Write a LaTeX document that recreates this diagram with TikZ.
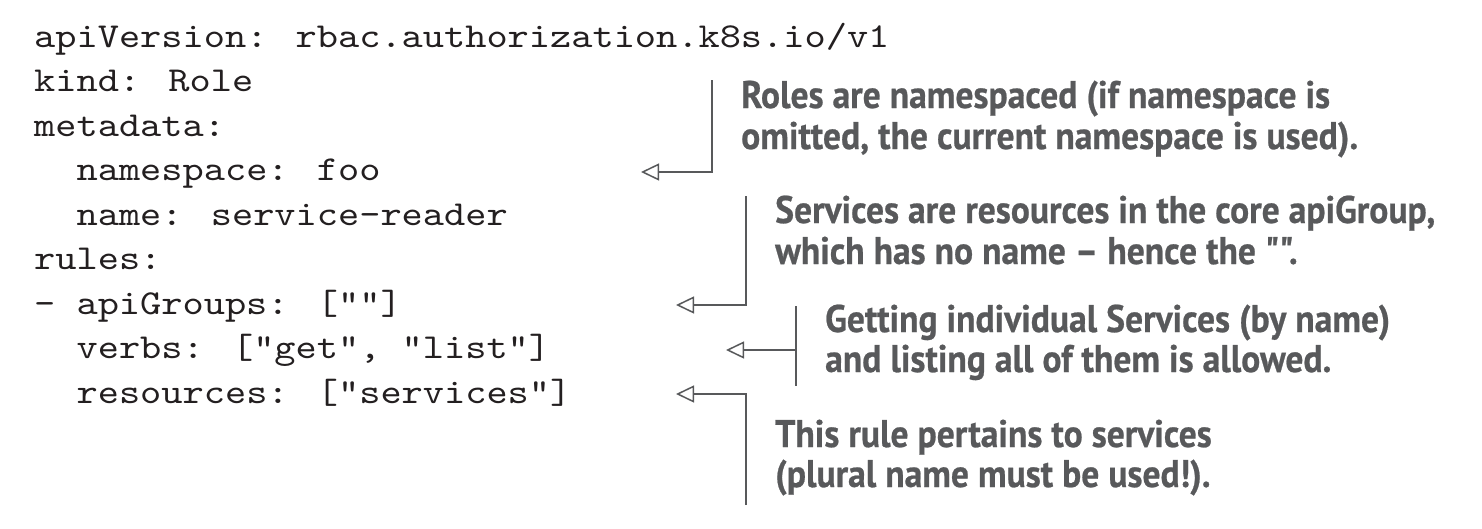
\documentclass[tikz,border=0pt]{standalone}
\usepackage{fontspec}
\usetikzlibrary{arrows.meta}
\newfontfamily\codefont[FakeStretch=1.154]{lmmono10-regular.otf}
\newfontfamily\notefont[FakeStretch=0.924, FakeBold=0.6]{PT Sans}
\definecolor{codeink}{HTML}{231F20}
\definecolor{noteink}{HTML}{58595B}
\tikzset{
  code/.style={anchor=base west, inner sep=0pt, text=codeink,
    font=\codefont\fontsize{35}{35}\selectfont},
  note/.style={anchor=base west, inner sep=0pt, text=noteink,
    font=\notefont\bfseries\fontsize{38.5}{41}\selectfont},
  conn/.style={draw=noteink, line width=1.5pt},
  arr/.style={conn, -{Triangle[open, length=18pt, width=17pt, line width=1.5pt]}}
}
\newcommand\ind{\phantom{xx}}
\begin{document}
\begin{tikzpicture}[x=1pt, y=-1pt]
\useasboundingbox (0,0) rectangle (1482,528);
% code
\node[code] (l1) at (34,47)    {apiVersion: rbac.authorization.k8s.io/v1};
\node[code] (l2) at (34,91.5)  {kind: Role};
\node[code] (l3) at (34,136)   {metadata:};
\node[code] (l4) at (34,180.5) {\ind namespace: foo};
\node[code] (l5) at (34,225)   {\ind name: service-reader};
\node[code] (l6) at (34,269.5) {rules:};
\node[code] (l7) at (34,314)   {- apiGroups: [""]};
\node[code] (l8) at (34,358.5) {\ind verbs: ["get", "list"]};
\node[code] (l9) at (34,403)   {\ind resources: ["services"]};
% notes
\node[note] (r1) at (741,108) {Roles are namespaced (if namespace is};
\node[note] (r2) at (741,149) {omitted, the current namespace is used).};
\node[note] (s1) at (775,223) {Services are resources in the core apiGroup,};
\node[note] (s2) at (775,264) {which has no name – hence the "".};
\node[note] (g1) at (825,332) {Getting individual Services (by name)};
\node[note] (g2) at (825,372) {and listing all of them is allowed.};
\node[note] (t1) at (775,447) {This rule pertains to services};
\node[note] (t2) at (775,487) {(plural name must be used!).};
% connector points
\coordinate (rTop) at (712,80);
\coordinate (rTip) at (641,172);
\coordinate (sTop) at (746,196);
\coordinate (sTip) at (676,305);
\coordinate (gTop) at (796,306);
\coordinate (gBot) at (796,386);
\coordinate (gMid) at (796,350);
\coordinate (gTip) at (726,350);
\coordinate (tBot) at (746,505);
\coordinate (tTip) at (676,394);
\draw[arr] (rTop) |- (rTip);
\draw[arr] (sTop) |- (sTip);
\draw[conn] (gTop) -- (gBot);
\draw[arr] (gMid) -- (gTip);
\draw[arr] (tBot) |- (tTip);
\end{tikzpicture}
\end{document}
